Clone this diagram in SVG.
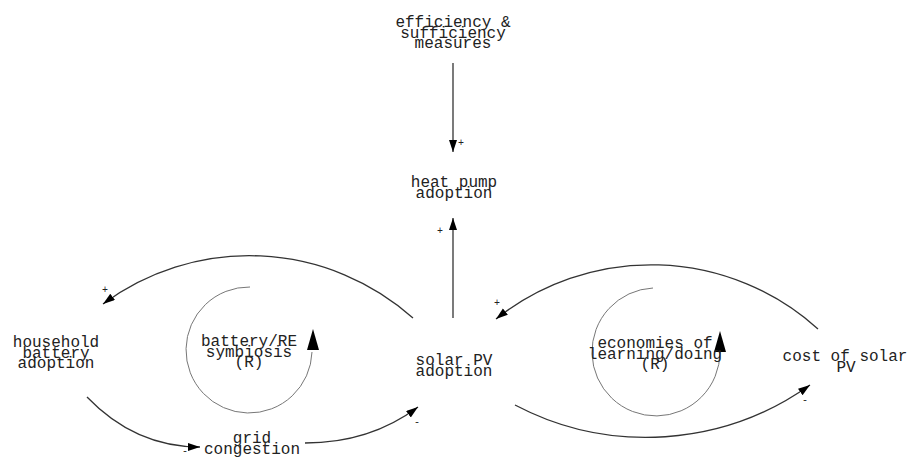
<svg xmlns="http://www.w3.org/2000/svg" width="909" height="457" viewBox="0 0 909 457">
<style>
.lbl{font-family:"Liberation Mono","DejaVu Sans Mono",monospace;font-size:16px;fill:#222;text-anchor:middle}
.pol{font-family:"Liberation Mono","DejaVu Sans Mono",monospace;font-size:10px;fill:#222;text-anchor:middle}
.link{fill:none;stroke:#333;stroke-width:1.3}
.loop{fill:none;stroke:#777;stroke-width:1}
</style>
<defs>
<marker id="ah" markerUnits="userSpaceOnUse" markerWidth="14" markerHeight="10" refX="12" refY="4" orient="auto">
<path d="M0,0 L12,4 L0,8 z" fill="#000"/>
</marker>
</defs>
<rect width="909" height="457" fill="#fff"/>
<g id="connectors">
<path class="link" d="M453,63 L453,152" marker-end="url(#ah)"/>
<path class="link" d="M453,318 L453,218" marker-end="url(#ah)"/>
<path class="link" d="M413,318 A246,246 0 0 0 103,304" marker-end="url(#ah)"/>
<path class="link" d="M818,329 A249,249 0 0 0 496,319" marker-end="url(#ah)"/>
<path class="link" d="M87,397 Q135,447 200,447" marker-end="url(#ah)"/>
<path class="link" d="M305,443 Q370,443 418,407" marker-end="url(#ah)"/>
<path class="link" d="M515,405 A282,282 0 0 0 810,385" marker-end="url(#ah)"/>
<text class="pol" x="461" y="146">+</text>
<text class="pol" x="440" y="234">+</text>
<text class="pol" x="105" y="293">+</text>
<text class="pol" x="497" y="306">+</text>
<text class="pol" x="185" y="454">-</text>
<text class="pol" x="417" y="425">-</text>
<text class="pol" x="805" y="403">-</text>
</g>
<g id="loop-battery">
<path class="loop" d="M250,287 A63,63 0 1 0 312,352"/>
<path d="M313,329 L307,350 L319,350 z" fill="#000"/>
<text class="lbl" x="249" y="346">battery/RE</text>
<text class="lbl" x="249" y="356.5">symbiosis</text>
<text class="lbl" x="249" y="367">(R)</text>
</g>
<g id="loop-economies">
<path class="loop" d="M653,288 A64,64 0 1 0 720,352"/>
<path d="M720,331 L714,352 L726,352 z" fill="#000"/>
<text class="lbl" x="655" y="348">economies of</text>
<text class="lbl" x="655" y="358.5">learning/doing</text>
<text class="lbl" x="655" y="369">(R)</text>
</g>
<g id="efficiency">
<text class="lbl" x="453" y="27">efficiency &amp;</text>
<text class="lbl" x="453" y="37.5">sufficiency</text>
<text class="lbl" x="453" y="48">measures</text>
</g>
<g id="heatpump">
<text class="lbl" x="454" y="187">heat pump</text>
<text class="lbl" x="454" y="197.5">adoption</text>
</g>
<g id="household">
<text class="lbl" x="56" y="347">household</text>
<text class="lbl" x="56" y="357.5">battery</text>
<text class="lbl" x="56" y="368">adoption</text>
</g>
<g id="solarpv">
<text class="lbl" x="454" y="365">solar PV</text>
<text class="lbl" x="454" y="375.5">adoption</text>
</g>
<g id="costpv">
<text class="lbl" x="845" y="361">cost of solar</text>
<text class="lbl" x="846" y="371.5">PV</text>
</g>
<g id="grid">
<text class="lbl" x="252" y="443">grid</text>
<text class="lbl" x="252" y="453.5">congestion</text>
</g>
</svg>
